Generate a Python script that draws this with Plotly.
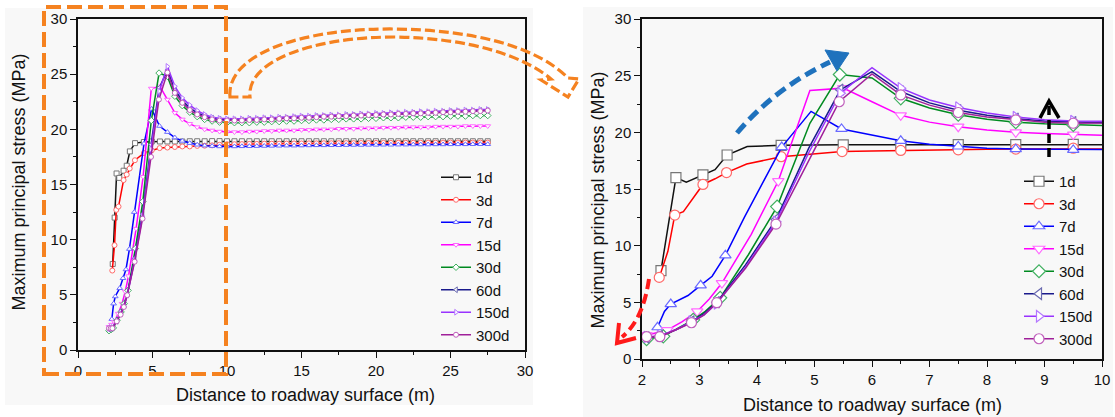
import re
import plotly.graph_objects as go

W, H = 1115, 417
FONT = "Arial, Liberation Sans, sans-serif"

# ---- data: maximum principal stress (MPa) vs distance to roadway surface (m)
AGES = ["1d", "3d", "7d", "15d", "30d", "60d", "150d", "300d"]

# shared far-field sampling positions (m)
FAR_X = [6.0, 6.5, 7.0, 7.5, 8.0, 8.5, 9.0, 9.5, 10.0, 10.5, 11.0,
         11.5, 12.0, 12.5, 13.0, 13.5, 14.0, 14.5, 15.0, 15.5, 16.0, 16.5,
         17.0, 17.5, 18.0, 18.5, 19.0, 19.5, 20.0, 20.5, 21.0, 21.5, 22.0,
         22.5, 23.0, 23.5, 24.0, 24.5, 25.0, 25.5, 26.0, 26.5, 27.0, 27.5]

NEAR_X_1D = [2.33, 2.46, 2.59, 2.77, 3.06, 3.27, 3.48, 3.83, 4.42, 4.95, 5.50]
NEAR_Y_1D = [7.8, 12.0, 16.0, 15.6, 16.25, 16.7, 18.0, 18.75, 18.85, 18.9, 18.9]
FAR_Y_1D = [18.90, 18.90, 18.90, 18.92, 18.92, 18.92, 18.93, 18.93, 18.92, 18.92, 18.92,
            18.92, 18.92, 18.92, 18.92, 18.92, 18.92, 18.92, 18.92, 18.92, 18.92, 18.92,
            18.92, 18.92, 18.92, 18.92, 18.92, 18.92, 18.92, 18.92, 18.92, 18.92, 18.92,
            18.92, 18.92, 18.92, 18.92, 18.92, 18.92, 18.92, 18.92, 18.92, 18.92, 18.92]

NEAR_X_3D = [2.30, 2.45, 2.57, 2.72, 3.06, 3.27, 3.47, 3.82, 4.42, 4.95, 5.48]
NEAR_Y_3D = [7.2, 9.5, 12.7, 13.0, 15.4, 15.9, 16.45, 17.2, 17.85, 18.1, 18.3]
FAR_Y_3D = [18.35, 18.40, 18.45, 18.45, 18.50, 18.52, 18.55, 18.60, 18.65, 18.65, 18.66,
            18.68, 18.68, 18.70, 18.70, 18.70, 18.71, 18.72, 18.72, 18.73, 18.73, 18.74,
            18.74, 18.75, 18.75, 18.75, 18.76, 18.76, 18.77, 18.77, 18.77, 18.78, 18.78,
            18.78, 18.78, 18.79, 18.79, 18.79, 18.80, 18.80, 18.80, 18.80, 18.80, 18.80]

NEAR_X_7D = [2.27, 2.39, 2.50, 2.80, 3.02, 3.22, 3.45, 3.78, 4.43, 4.94, 5.47]
NEAR_Y_7D = [2.8, 4.2, 4.85, 5.6, 6.5, 7.3, 9.15, 12.5, 18.7, 21.85, 20.3]
FAR_Y_7D = [19.75, 19.25, 18.95, 18.75, 18.60, 18.52, 18.48, 18.45, 18.45, 18.45, 18.46,
            18.47, 18.48, 18.49, 18.50, 18.51, 18.52, 18.52, 18.53, 18.54, 18.55, 18.55,
            18.56, 18.56, 18.57, 18.58, 18.58, 18.59, 18.59, 18.60, 18.60, 18.61, 18.61,
            18.62, 18.62, 18.62, 18.63, 18.63, 18.64, 18.64, 18.64, 18.65, 18.65, 18.65]

NEAR_X_15D = [2.08, 2.25, 2.44, 2.70, 2.96, 3.17, 3.39, 3.90, 4.37, 4.92, 5.50]
NEAR_Y_15D = [2.1, 2.3, 2.55, 3.3, 4.2, 5.3, 6.7, 11.0, 15.7, 23.7, 23.9]
FAR_Y_15D = [22.70, 21.50, 20.90, 20.50, 20.20, 20.00, 19.90, 19.80, 19.75, 19.75, 19.75,
             19.80, 19.80, 19.85, 19.85, 19.90, 19.90, 19.90, 19.95, 19.95, 20.00, 20.00,
             20.00, 20.05, 20.05, 20.05, 20.10, 20.10, 20.10, 20.15, 20.15, 20.15, 20.20,
             20.20, 20.20, 20.20, 20.25, 20.25, 20.25, 20.25, 20.30, 20.30, 20.30, 20.30]

NEAR_X_30D = [2.08, 2.22, 2.37, 2.62, 2.89, 3.10, 3.36, 3.85, 4.35, 4.92, 5.44]
NEAR_Y_30D = [1.75, 1.85, 2.0, 2.7, 3.45, 4.2, 5.4, 9.2, 13.45, 20.8, 25.1]
FAR_Y_30D = [24.80, 23.00, 22.15, 21.55, 21.15, 20.90, 20.75, 20.65, 20.60, 20.60, 20.60,
             20.60, 20.65, 20.65, 20.70, 20.70, 20.75, 20.75, 20.80, 20.80, 20.85, 20.85,
             20.90, 20.90, 20.95, 20.95, 20.95, 21.00, 21.00, 21.05, 21.05, 21.05, 21.10,
             21.10, 21.10, 21.15, 21.15, 21.15, 21.20, 21.20, 21.20, 21.25, 21.25, 21.25]

NEAR_X_60D = [2.08, 2.20, 2.31, 2.60, 2.86, 3.08, 3.30, 3.80, 4.33, 4.90, 5.45]
NEAR_Y_60D = [1.9, 1.95, 2.0, 2.6, 3.3, 4.0, 5.0, 8.3, 12.3, 18.6, 23.75]
FAR_Y_60D = [25.35, 23.60, 22.60, 21.95, 21.50, 21.20, 21.00, 20.90, 20.85, 20.85, 20.85,
             20.90, 20.90, 20.95, 20.95, 21.00, 21.00, 21.05, 21.10, 21.10, 21.15, 21.15,
             21.20, 21.20, 21.25, 21.25, 21.30, 21.30, 21.35, 21.35, 21.40, 21.40, 21.45,
             21.45, 21.50, 21.50, 21.55, 21.55, 21.60, 21.60, 21.65, 21.65, 21.70, 21.70]

NEAR_X_150D = [2.08, 2.20, 2.31, 2.60, 2.86, 3.08, 3.30, 3.80, 4.33, 4.90, 5.45]
NEAR_Y_150D = [1.95, 2.0, 2.05, 2.6, 3.3, 3.9, 4.9, 8.1, 12.1, 18.2, 23.45]
FAR_Y_150D = [25.70, 23.90, 22.85, 22.20, 21.70, 21.35, 21.10, 21.00, 20.95, 20.95, 20.95,
              21.00, 21.00, 21.05, 21.05, 21.10, 21.10, 21.15, 21.20, 21.20, 21.25, 21.25,
              21.30, 21.30, 21.35, 21.35, 21.40, 21.40, 21.45, 21.45, 21.50, 21.50, 21.55,
              21.55, 21.60, 21.60, 21.65, 21.65, 21.70, 21.70, 21.75, 21.75, 21.80, 21.80]

NEAR_X_300D = [2.08, 2.20, 2.31, 2.60, 2.86, 3.08, 3.30, 3.80, 4.33, 4.90, 5.43]
NEAR_Y_300D = [1.97, 1.97, 1.97, 2.6, 3.2, 3.9, 4.97, 8.0, 11.9, 17.5, 22.7]
FAR_Y_300D = [25.15, 23.30, 22.40, 21.75, 21.35, 21.10, 20.90, 20.80, 20.80, 20.80, 20.80,
              20.85, 20.85, 20.90, 20.90, 20.95, 21.00, 21.00, 21.05, 21.05, 21.10, 21.15,
              21.15, 21.20, 21.20, 21.25, 21.25, 21.30, 21.30, 21.35, 21.35, 21.40, 21.40,
              21.45, 21.45, 21.50, 21.50, 21.55, 21.55, 21.60, 21.60, 21.65, 21.65, 21.70]

NEAR_X = [NEAR_X_1D, NEAR_X_3D, NEAR_X_7D, NEAR_X_15D, NEAR_X_30D, NEAR_X_60D, NEAR_X_150D, NEAR_X_300D]
NEAR_Y = [NEAR_Y_1D, NEAR_Y_3D, NEAR_Y_7D, NEAR_Y_15D, NEAR_Y_30D, NEAR_Y_60D, NEAR_Y_150D, NEAR_Y_300D]
FAR_Y = [FAR_Y_1D, FAR_Y_3D, FAR_Y_7D, FAR_Y_15D, FAR_Y_30D, FAR_Y_60D, FAR_Y_150D, FAR_Y_300D]

# ---- styles
LINE_COLORS = ["#111111", "#ff0000", "#0000ff", "#ff00ff", "#008a20", "#1a1a8c", "#9933ff", "#a0209a"]
EDGE_COLORS = ["#777777", "#ff6a6a", "#6a6aff", "#ff6aff", "#40b060", "#6a6ab0", "#b477ff", "#c060bc"]
SYMBOLS = ["square", "circle", "triangle-up", "triangle-down", "diamond",
           "triangle-left", "triangle-right", "circle"]
CLEAR = "rgba(0,0,0,0)"


def fx(px):
    return px / W


def fy(py):
    return 1 - py / H


def pix_path(s):
    """Convert an SVG path written in pixel coordinates to paper coordinates."""
    return re.sub(r"(-?\d+(?:\.\d+)?),(-?\d+(?:\.\d+)?)",
                  lambda m: f"{float(m.group(1)) / W:.5f},{1 - float(m.group(2)) / H:.5f}", s)


fig = go.Figure()

for i, age in enumerate(AGES):
    xs = NEAR_X[i] + FAR_X
    ys = NEAR_Y[i] + FAR_Y[i]
    # overview panel: every sample marked
    fig.add_trace(go.Scatter(
        x=xs, y=ys, mode="lines+markers", name=age, legend="legend",
        xaxis="x", yaxis="y",
        line=dict(color=LINE_COLORS[i], width=1.5),
        marker=dict(symbol=SYMBOLS[i], size=5, color="white",
                    line=dict(color=EDGE_COLORS[i], width=1)),
    ))
    # detail panel: marker on every second sample
    fill = ["white" if k % 2 == 0 else CLEAR for k in range(len(xs))]
    edge = [EDGE_COLORS[i] if k % 2 == 0 else CLEAR for k in range(len(xs))]
    fig.add_trace(go.Scatter(
        x=xs, y=ys, mode="lines+markers", name=age, legend="legend2",
        xaxis="x2", yaxis="y2",
        line=dict(color=LINE_COLORS[i], width=1.5),
        marker=dict(symbol=SYMBOLS[i], size=10, color=fill,
                    line=dict(color=edge, width=1.2)),
    ))

axis_style = dict(
    showline=True, linecolor="#111111", linewidth=1.5, mirror=True,
    ticks="outside", ticklen=6, tickwidth=1.3, tickcolor="#111111",
    showgrid=False, zeroline=False, automargin=False,
    tickfont=dict(family=FONT, size=15, color="#111111"),
)

legend_style = dict(xanchor="left", yanchor="top", bgcolor="rgba(0,0,0,0)",
                    tracegroupgap=0, borderwidth=0,
                    font=dict(family=FONT, size=15, color="#111111"))

fig.update_layout(
    template="none",
    width=W, height=H, autosize=False,
    margin=dict(l=0, r=0, t=0, b=0, pad=0),
    paper_bgcolor="white", plot_bgcolor="rgba(0,0,0,0)",
    font=dict(family=FONT, color="#111111"),
    xaxis=dict(domain=[fx(78), fx(525)], range=[0, 30], dtick=5, tick0=0,
               minor=dict(ticks="outside", ticklen=3.5, tickwidth=1.2, tickcolor="#111111", dtick=2.5),
               anchor="y", **axis_style),
    yaxis=dict(domain=[fy(350), fy(19)], range=[0, 30], dtick=5, tick0=0,
               minor=dict(ticks="outside", ticklen=3.5, tickwidth=1.2, tickcolor="#111111", dtick=2.5),
               anchor="x", **axis_style),
    xaxis2=dict(domain=[fx(642), fx(1102)], range=[2, 10], dtick=1, tick0=0,
                minor=dict(ticks="outside", ticklen=3.5, tickwidth=1.2, tickcolor="#111111", dtick=0.5),
                anchor="y2", **axis_style),
    yaxis2=dict(domain=[fy(359), fy(19)], range=[0, 30], dtick=5, tick0=0,
                minor=dict(ticks="outside", ticklen=3.5, tickwidth=1.2, tickcolor="#111111", dtick=2.5),
                anchor="x2", **axis_style),
    legend=dict(x=fx(436), y=fy(161), **legend_style),
    legend2=dict(x=fx(1019), y=fy(165), **legend_style),
)

# axis titles
title_font = dict(family=FONT, size=18, color="#111111")
fig.add_annotation(text="Maximum principal stress (MPa)", x=fx(18.5), y=fy(182), xref="paper", yref="paper",
                   textangle=-90, showarrow=False, font=title_font, xanchor="center", yanchor="middle")
fig.add_annotation(text="Maximum principal stress (MPa)", x=fx(597.5), y=fy(200), xref="paper", yref="paper",
                   textangle=-90, showarrow=False, font=title_font, xanchor="center", yanchor="middle")
fig.add_annotation(text="Distance to roadway surface (m)", x=fx(305), y=fy(395), xref="paper", yref="paper",
                   showarrow=False, font=title_font, xanchor="center", yanchor="middle")
fig.add_annotation(text="Distance to roadway surface (m)", x=fx(872), y=fy(405), xref="paper", yref="paper",
                   showarrow=False, font=title_font, xanchor="center", yanchor="middle")

# light panel backgrounds
for x0, y0, x1, y1 in [(5, 8, 533, 405), (583, 7, 1113, 417)]:
    fig.add_shape(type="rect", xref="paper", yref="paper", layer="below",
                  x0=fx(x0), x1=fx(x1), y0=fy(y1), y1=fy(y0),
                  fillcolor="#f8f8f8", line=dict(width=0))

ORANGE = "#f58220"
# dashed frame around the near-field region of the overview
fig.add_shape(type="rect", xref="paper", yref="paper",
              x0=fx(44), x1=fx(226), y0=fy(374), y1=fy(7),
              line=dict(color=ORANGE, width=4, dash="15px,6px"))
# hollow curved arrow leading to the detail panel
fig.add_shape(type="path", xref="paper", yref="paper",
              path=pix_path("M 230,97 C 226,55 300,28 395,29 C 470,30 535,45 568,78 "
                            "L 579,79 L 568,97 L 541,80 L 551,79 "
                            "C 522,55 468,38 395,37 C 310,37 246,62 250,97 Z"),
              line=dict(color=ORANGE, width=3.2, dash="10px,4px"))

# blue trend arrow (peak moving deeper)
BLUE = "#1f72bd"
fig.add_shape(type="path", xref="paper", yref="paper",
              path=pix_path("M 737,133 Q 775,88 830,62"),
              line=dict(color=BLUE, width=5, dash="12px,6px"))
fig.add_shape(type="path", xref="paper", yref="paper",
              path=pix_path("M 849,53 L 825,50 L 837,71 Z"),
              fillcolor=BLUE, line=dict(color=BLUE, width=1))

# red trend arrow (surface stress dropping)
RED = "#ff1a1a"
fig.add_shape(type="path", xref="paper", yref="paper",
              path=pix_path("M 649,279 Q 643,320 622,337"),
              line=dict(color=RED, width=4, dash="10px,5px"))
fig.add_shape(type="path", xref="paper", yref="paper",
              path=pix_path("M 619,323 L 617,343 L 636,338"),
              line=dict(color=RED, width=4))

# black trend arrow (far-field stress rising)
fig.add_shape(type="path", xref="paper", yref="paper",
              path=pix_path("M 1049,157 L 1049,104"),
              line=dict(color="#000000", width=3.5, dash="9px,5px"))
fig.add_shape(type="path", xref="paper", yref="paper",
              path=pix_path("M 1040,118 L 1049,101 L 1059,118"),
              line=dict(color="#000000", width=3.5))

fig.write_html("out.html")
